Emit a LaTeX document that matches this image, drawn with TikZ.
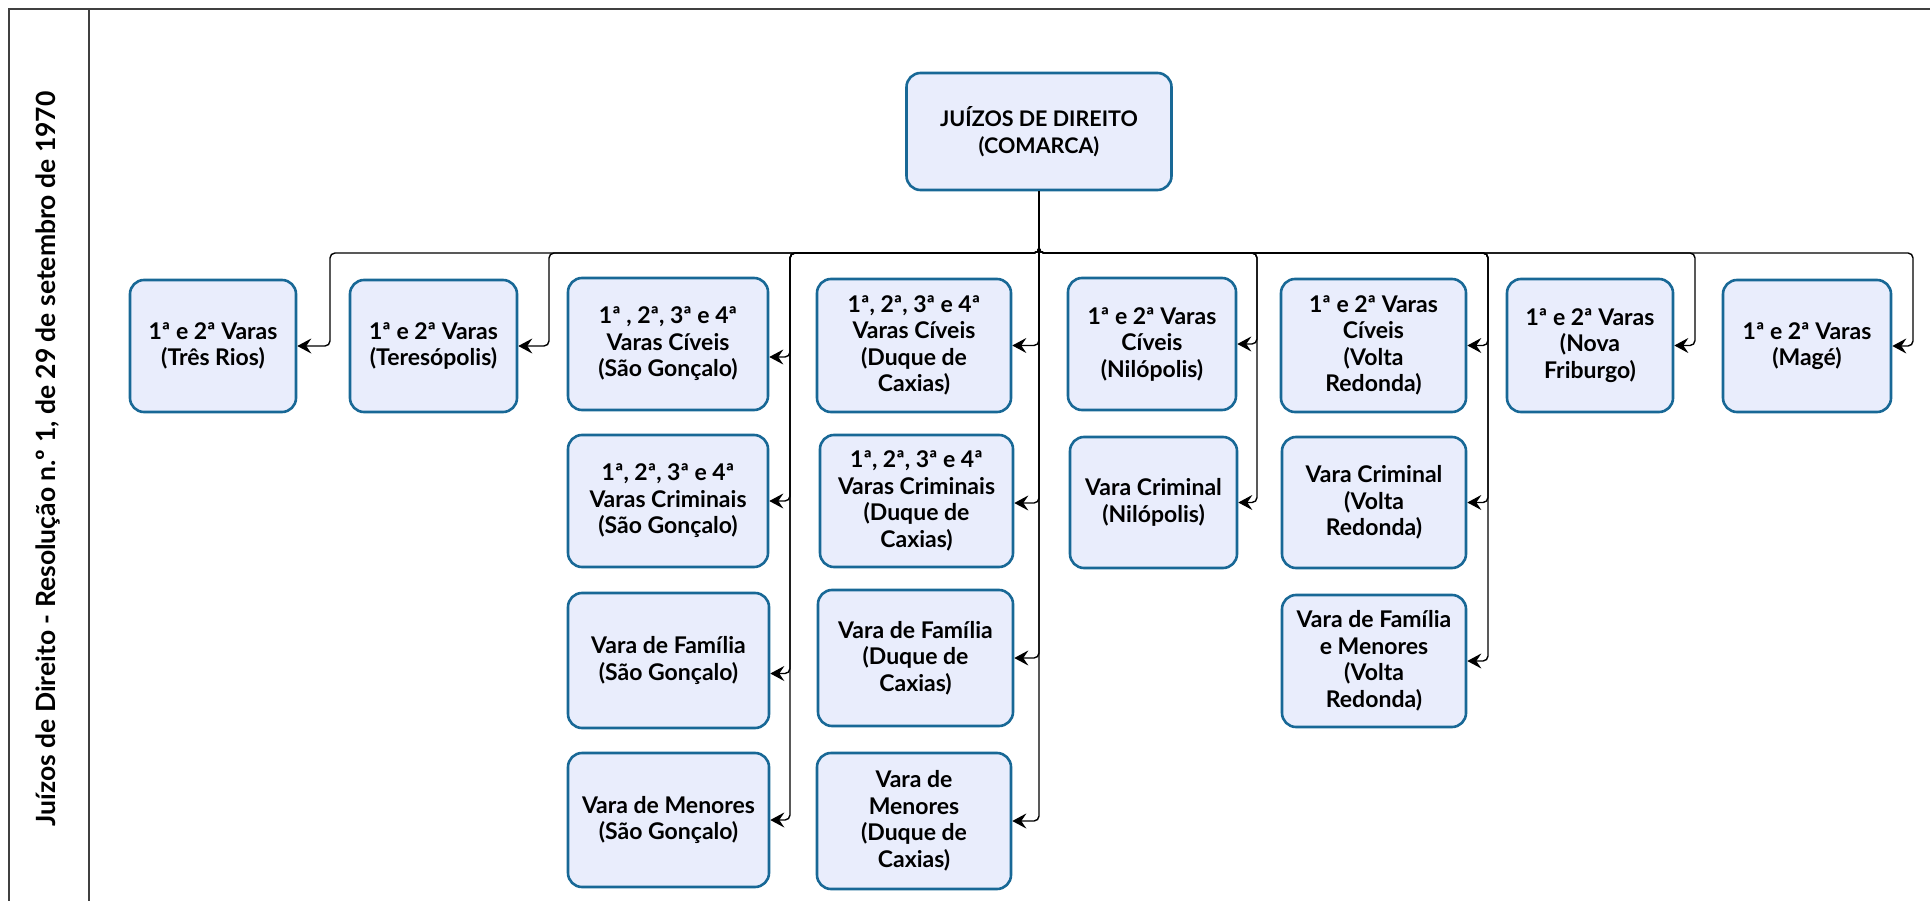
\documentclass[tikz,border=0pt]{standalone}
\usepackage{fontspec}
\setmainfont{Lato}
\usetikzlibrary{arrows.meta}
\definecolor{boxfill}{RGB}{233,237,252}
\definecolor{boxline}{RGB}{24,104,150}
\definecolor{framecol}{RGB}{64,64,64}
\tikzset{
  box/.style={draw=boxline, fill=boxfill, line width=2.6pt, rounded corners=14pt,
    align=center, inner sep=0pt, font=\fontsize{23}{26.5}\selectfont\bfseries,
    minimum height=132pt},
  rootbox/.style={box, font=\fontsize{21.5}{26.5}\selectfont\bfseries},
  conn/.style={draw=black, line width=1.4pt, rounded corners=5pt,
    -{Stealth[length=14pt,width=15pt,inset=5pt]}},
  framel/.style={draw=framecol, line width=2pt},
  titletext/.style={rotate=90, font=\fontsize{26.5}{30}\selectfont\bfseries, inner sep=0pt}
}
\begin{document}
\begin{tikzpicture}[x=1pt,y=-1pt]
\useasboundingbox (0,0) rectangle (1930,901);
% frame
\draw[framel] (1931,9) -- (9,9) -- (9,902);
\draw[framel] (89,9) -- (89,902);
\node[titletext] (title) at (48,459) {Juízos de Direito - Resolução n.º 1, de 29 de setembro de 1970};

% nodes
\node[rootbox, minimum width=265pt, minimum height=117pt] (root) at (1039,131.5) {JUÍZOS DE DIREITO\\(COMARCA)};
\node[box, minimum width=166pt] (tr) at (213,346) {1ª e 2ª Varas\\(Três Rios)};
\node[box, minimum width=167pt] (ter) at (433.5,346) {1ª e 2ª Varas\\(Teresópolis)};
\node[box, minimum width=200pt] (sgc) at (668,344) {1ª , 2ª, 3ª e 4ª\\Varas Cíveis\\(São Gonçalo)};
\node[box, minimum width=200pt] (sgcr) at (668,501) {1ª, 2ª, 3ª e 4ª\\Varas Criminais\\(São Gonçalo)};
\node[box, minimum width=201pt, minimum height=135pt] (sgf) at (668.5,660.5) {Vara de Família\\(São Gonçalo)};
\node[box, minimum width=201pt, minimum height=134pt] (sgm) at (668.5,820) {Vara de Menores\\(São Gonçalo)};
\node[box, minimum width=194pt, minimum height=133pt] (dcc) at (914,345.5) {1ª, 2ª, 3ª e 4ª\\Varas Cíveis\\(Duque de\\Caxias)};
\node[box, minimum width=193pt] (dccr) at (916.5,501) {1ª, 2ª, 3ª e 4ª\\Varas Criminais\\(Duque de\\Caxias)};
\node[box, minimum width=195pt, minimum height=136pt] (dcf) at (915.5,658) {Vara de Família\\(Duque de\\Caxias)};
\node[box, minimum width=194pt, minimum height=136pt] (dcm) at (914,821) {Vara de\\Menores\\(Duque de\\Caxias)};
\node[box, minimum width=168pt] (nc) at (1152,344) {1ª e 2ª Varas\\Cíveis\\(Nilópolis)};
\node[box, minimum width=167pt, minimum height=131pt] (ncr) at (1153.5,502.5) {Vara Criminal\\(Nilópolis)};
\node[box, minimum width=185pt, minimum height=133pt] (vrc) at (1373.5,345.5) {1ª e 2ª Varas\\Cíveis\\(Volta\\Redonda)};
\node[box, minimum width=184pt, minimum height=131pt] (vrcr) at (1374,502.5) {Vara Criminal\\(Volta\\Redonda)};
\node[box, minimum width=184pt] (vrf) at (1374,661) {Vara de Família\\e Menores\\(Volta\\Redonda)};
\node[box, minimum width=166pt, minimum height=133pt] (nf) at (1590,345.5) {1ª e 2ª Varas\\(Nova\\Friburgo)};
\node[box, minimum width=168pt] (mg) at (1807,346) {1ª e 2ª Varas\\(Magé)};

% bus and column coordinates
\coordinate (bus) at (1039,253);
\coordinate (lTR) at (330,253);
\coordinate (lTer) at (549,253);
\coordinate (lSG) at (790,253);
\coordinate (lNil) at (1257,253);
\coordinate (lVR) at (1488,253);
\coordinate (lNF) at (1695,253);
\coordinate (lMg) at (1913,253);

% connectors
\draw[conn] (root.south) -- (bus) -- (lTR) |- (tr.east);
\draw[conn] (root.south) -- (bus) -- (lTer) |- (ter.east);
\draw[conn] (root.south) -- (bus) -- (lSG) |- ([yshift=-13pt]sgc.east);
\draw[conn] (root.south) -- (bus) -- (lSG) |- (sgcr.east);
\draw[conn] (root.south) -- (bus) -- (lSG) |- ([yshift=-13pt]sgf.east);
\draw[conn] (root.south) -- (bus) -- (lSG) |- (sgm.east);
\draw[conn] (root.south) |- (dcc.east);
\draw[conn] (root.south) |- ([yshift=-2pt]dccr.east);
\draw[conn] (root.south) |- (dcf.east);
\draw[conn] (root.south) |- (dcm.east);
\draw[conn] (root.south) -- (bus) -- (lNil) |- (nc.east);
\draw[conn] (root.south) -- (bus) -- (lNil) |- (ncr.east);
\draw[conn] (root.south) -- (bus) -- (lVR) |- (vrc.east);
\draw[conn] (root.south) -- (bus) -- (lVR) |- (vrcr.east);
\draw[conn] (root.south) -- (bus) -- (lVR) |- (vrf.east);
\draw[conn] (root.south) -- (bus) -- (lNF) |- (nf.east);
\draw[conn] (root.south) -- (bus) -- (lMg) |- (mg.east);
\end{tikzpicture}
\end{document}
